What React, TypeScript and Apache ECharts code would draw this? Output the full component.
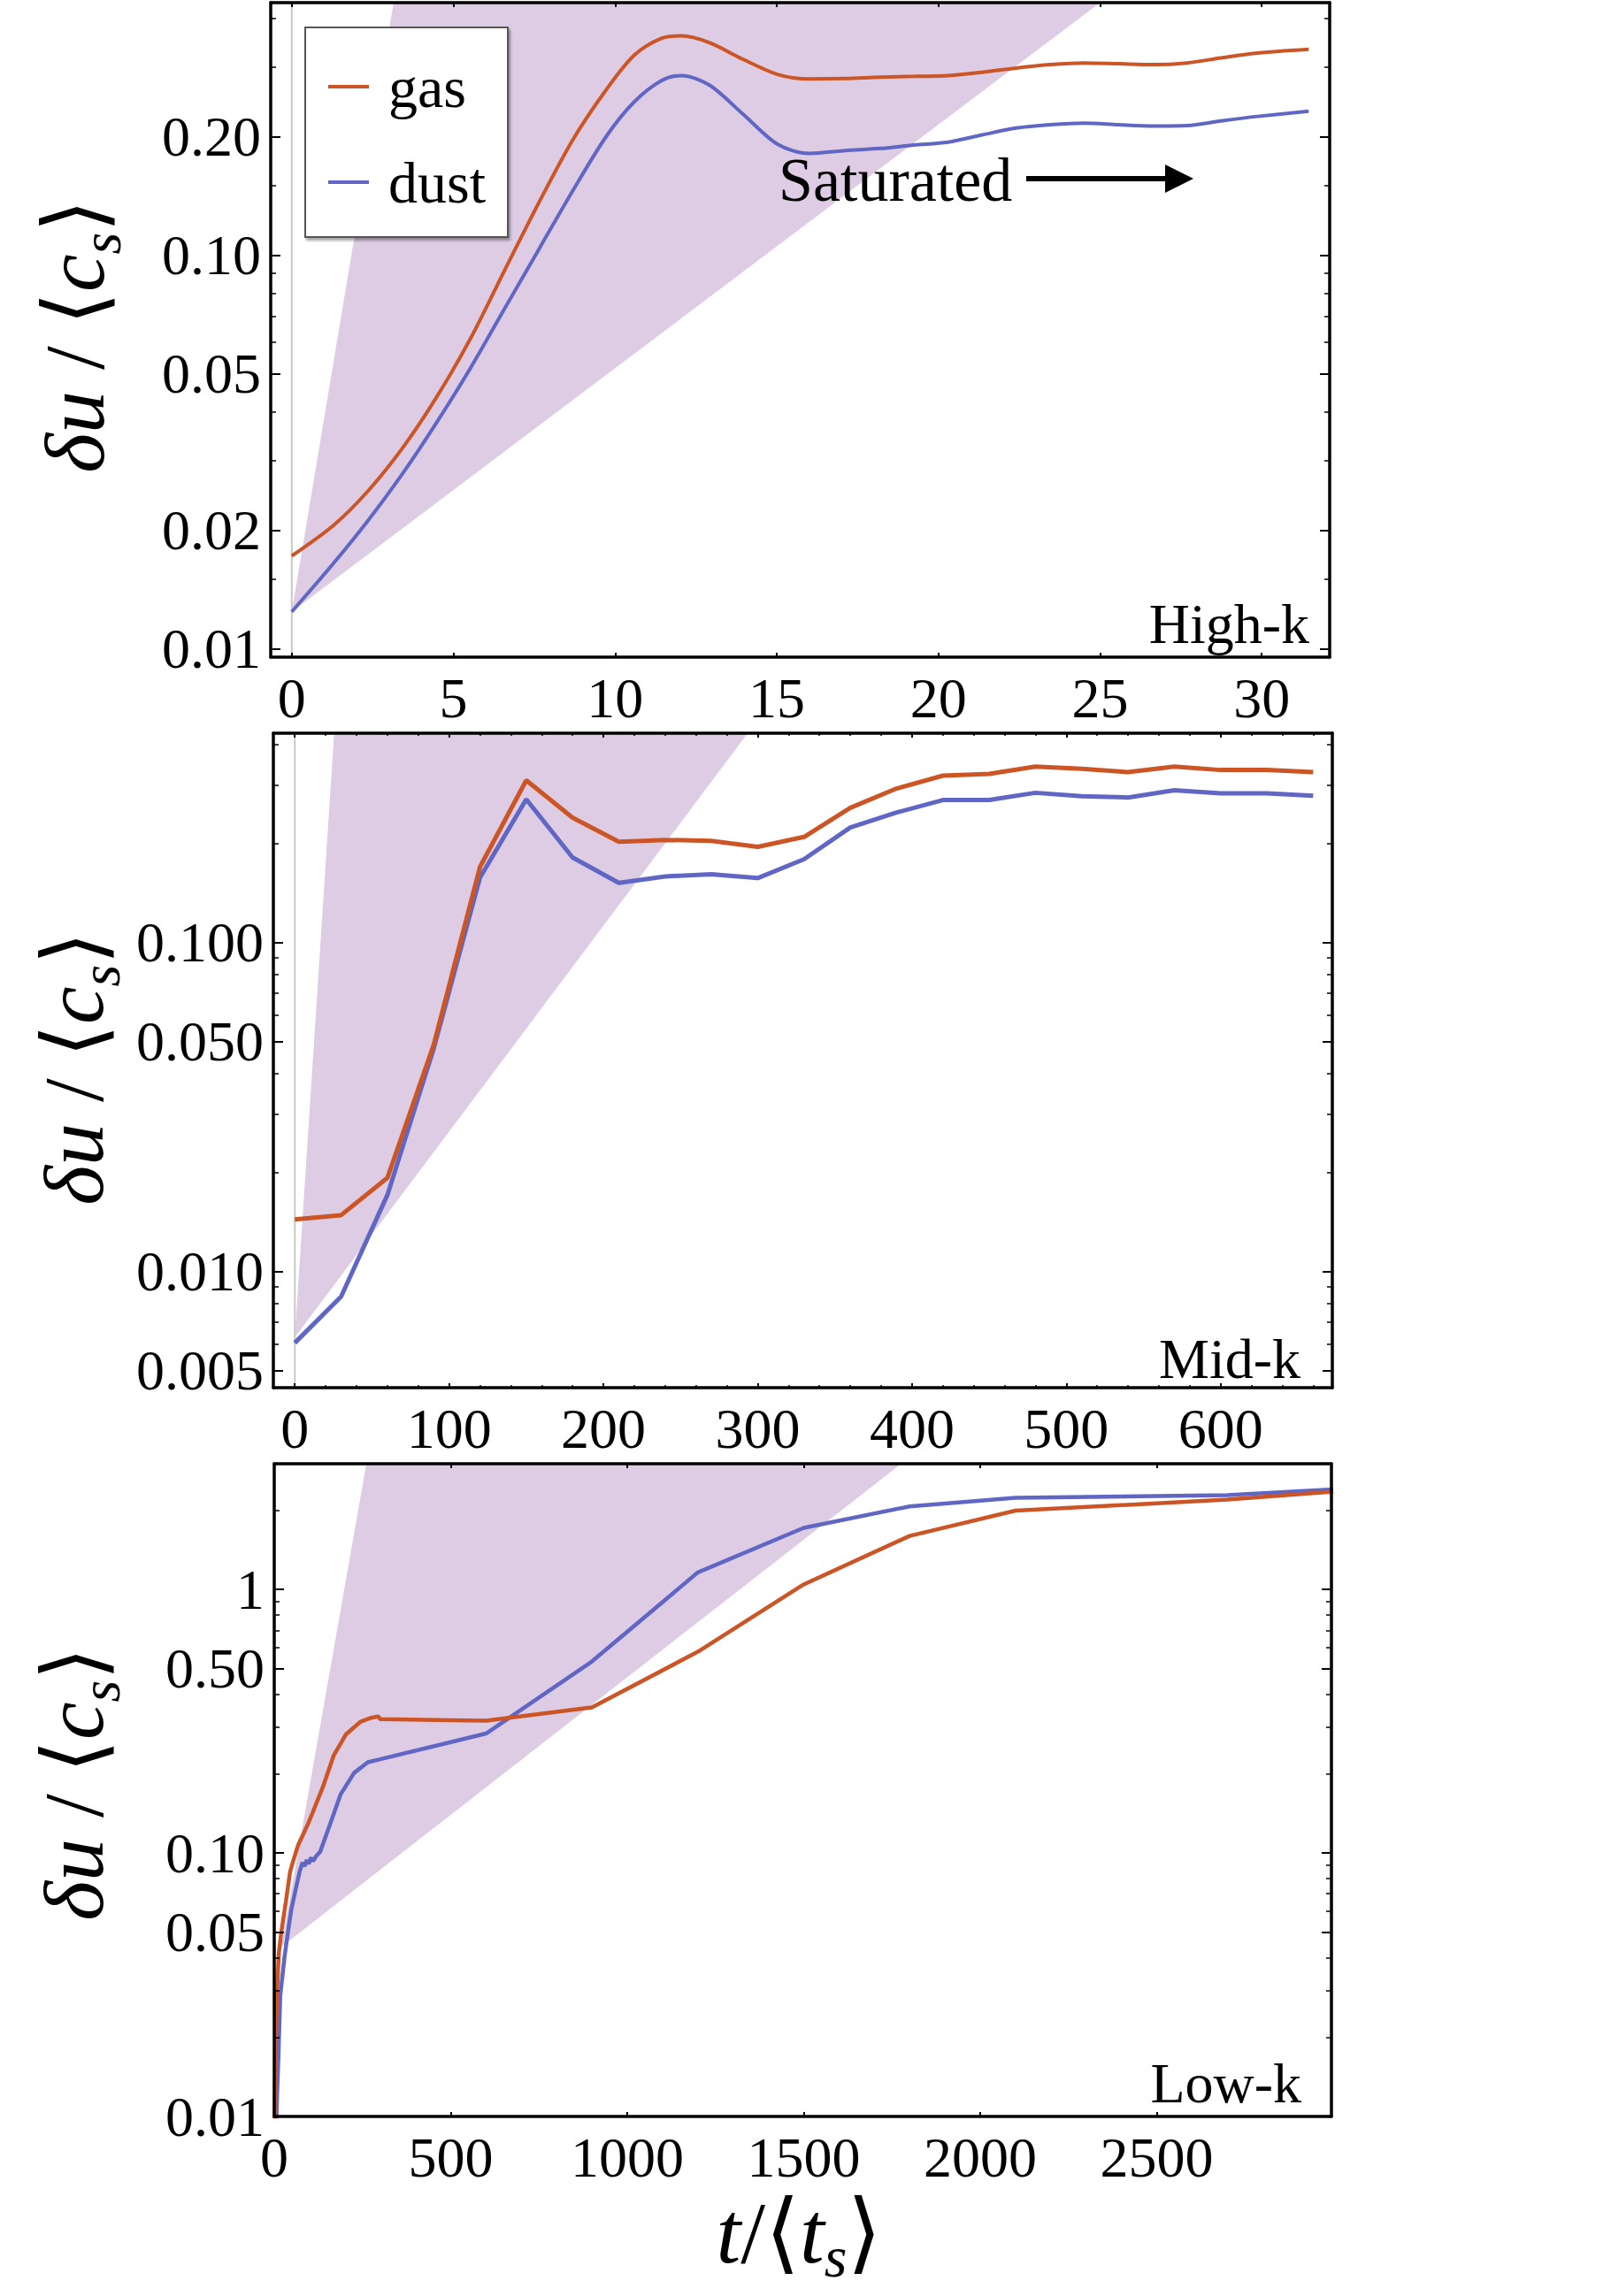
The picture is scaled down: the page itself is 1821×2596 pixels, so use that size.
import React, { useEffect, useRef } from "react";
import * as echarts from "echarts";

// ---------------- data ----------------
// High-k panel
const highK_t = [0, 1.3, 2.35, 3.41, 4.46, 5.52, 6.57, 7.63, 8.69, 9.74, 10.59, 11.43, 12.05, 12.91, 13.97, 15.02, 16.0, 17.13, 18.19, 19.24, 20.3, 21.35, 22.4, 23.46, 24.5, 25.58, 26.63, 27.69, 28.74, 29.8, 31.45];
const highK_gas = [0.0172, 0.0206, 0.0251, 0.0322, 0.0433, 0.0612, 0.091, 0.1353, 0.1962, 0.2641, 0.3219, 0.3554, 0.3606, 0.3467, 0.314, 0.2879, 0.2802, 0.2809, 0.2831, 0.2845, 0.2859, 0.2915, 0.2988, 0.3048, 0.3078, 0.3063, 0.3048, 0.3078, 0.3171, 0.3258, 0.3332];
const highK_dust = [0.0124, 0.0165, 0.0211, 0.0277, 0.0373, 0.0515, 0.0728, 0.103, 0.1457, 0.201, 0.245, 0.2773, 0.2859, 0.2706, 0.2276, 0.1913, 0.1812, 0.1843, 0.1866, 0.1904, 0.1937, 0.202, 0.2102, 0.2144, 0.2165, 0.2144, 0.2129, 0.2134, 0.2193, 0.2248, 0.232];
const highK_wedge = [[0, 0.0124], [3.15, 0.438], [25.0, 0.438]];
const highK_xTicks = [0, 5, 10, 15, 20, 25, 30];
const highK_yTicks = [0.01, 0.02, 0.05, 0.1, 0.2];
const highK_yTickLabels = ["0.01", "0.02", "0.05", "0.10", "0.20"];
const highK_yMinor = [0.015, 0.03, 0.04, 0.06, 0.07, 0.08, 0.09, 0.15, 0.3, 0.4];

// Mid-k panel
const midK_t = [0, 30, 60, 90, 120, 150, 180, 210, 240, 270, 300, 330, 360, 390, 420, 450, 480, 510, 540, 570, 600, 630, 660];
const midK_gas = [0.01438, 0.01482, 0.01923, 0.0488, 0.1694, 0.3107, 0.2393, 0.2021, 0.2047, 0.2034, 0.195, 0.209, 0.2563, 0.2933, 0.321, 0.3248, 0.342, 0.3368, 0.3289, 0.342, 0.3339, 0.3339, 0.3289];
const midK_dust = [0.00606, 0.00838, 0.01706, 0.0475, 0.1572, 0.2721, 0.181, 0.1516, 0.1586, 0.161, 0.1567, 0.1789, 0.2233, 0.248, 0.2706, 0.2706, 0.2847, 0.2779, 0.2755, 0.2899, 0.2838, 0.2838, 0.2789];
const midK_wedge = [[0, 0.0063], [25.5, 0.432], [293.5, 0.432]];
const midK_xTicks = [0, 100, 200, 300, 400, 500, 600];
const midK_xMinor = [20, 40, 60, 80, 120, 140, 160, 180, 220, 240, 260, 280, 320, 340, 360, 380, 420, 440, 460, 480, 520, 540, 560, 580, 620, 640, 660];
const midK_yTicks = [0.005, 0.01, 0.05, 0.1];
const midK_yTickLabels = ["0.005", "0.010", "0.050", "0.100"];
const midK_yMinor = [0.006, 0.007, 0.008, 0.009, 0.02, 0.03, 0.04, 0.06, 0.07, 0.08, 0.09, 0.2, 0.3, 0.4];

// Low-k panel
const lowK_gas_t = [0, 3, 6, 9, 13, 20, 33, 45, 52, 67, 95, 110, 139, 168, 203, 245, 275, 295, 300, 600, 900, 1200, 1500, 1800, 2100, 2700, 3000];
const lowK_gas = [0.0085, 0.015, 0.024, 0.032, 0.0417, 0.05, 0.0654, 0.085, 0.0916, 0.1066, 0.1283, 0.1436, 0.1798, 0.2338, 0.2818, 0.3152, 0.326, 0.33, 0.322, 0.3177, 0.3567, 0.5803, 1.045, 1.596, 1.991, 2.194, 2.35];
const lowK_dust_t = [5, 8, 11.5, 17, 29, 39, 48, 60, 72, 80, 86, 92, 98, 104, 110, 118, 130, 158, 188, 226, 265, 300, 600, 900, 1200, 1500, 1800, 2100, 2700, 3000];
const lowK_dust = [0.0085, 0.012, 0.0164, 0.0287, 0.0402, 0.0503, 0.0607, 0.072, 0.085, 0.092, 0.089, 0.094, 0.091, 0.096, 0.093, 0.097, 0.101, 0.1283, 0.1668, 0.2012, 0.221, 0.2268, 0.284, 0.533, 1.161, 1.713, 2.067, 2.227, 2.279, 2.4];
const lowK_wedge = [[20, 0.044], [261, 3.0], [1776, 3.0]];
const lowK_xTicks = [0, 500, 1000, 1500, 2000, 2500];
const lowK_yTicks = [0.01, 0.05, 0.1, 0.5, 1];
const lowK_yTickLabels = ["0.01", "0.05", "0.10", "0.50", "1"];
const lowK_yMinor = [0.02, 0.03, 0.04, 0.06, 0.07, 0.08, 0.09, 0.2, 0.3, 0.4, 0.6, 0.7, 0.8, 0.9, 2];

const panelNames = ["High-k", "Mid-k", "Low-k"];
const seriesNames = ["gas", "dust"];

// ---------------- styles ----------------
const SERIF = "'Liberation Serif', 'Times New Roman', serif";
const BRACKET_FONT = "'Liberation Serif', 'DejaVu Sans', serif";
const GAS_COLOR = "#cc5526";
const DUST_COLOR = "#6066c4";
const WEDGE_COLOR = "#ddcce4";
const ZERO_COLOR = "#c8c8c8";

const lg = (v: number) => Math.log10(v);

const panels = [
  {
    grid: { left: 306, top: 3, width: 1197, height: 740 },
    xMin: -0.651, xMax: 32.1, yMin: 0.00951, yMax: 0.438,
    xTicks: highK_xTicks, xMinor: [] as number[],
    yTicks: highK_yTicks, yLabels: highK_yTickLabels, yMinor: highK_yMinor,
    gasT: highK_t, gas: highK_gas, dustT: highK_t, dust: highK_dust,
    wedge: highK_wedge, zeroLine: true, smooth: 0.3, lw: 4,
    label: { x: 1480, y: 705 }, title: { x: 84, y: 380 },
  },
  {
    grid: { left: 309, top: 829, width: 1197, height: 740 },
    xMin: -13.9, xMax: 672.4, yMin: 0.00443, yMax: 0.432,
    xTicks: midK_xTicks, xMinor: midK_xMinor,
    yTicks: midK_yTicks, yLabels: midK_yTickLabels, yMinor: midK_yMinor,
    gasT: midK_t, gas: midK_gas, dustT: midK_t, dust: midK_dust,
    wedge: midK_wedge, zeroLine: true, smooth: false, lw: 5,
    label: { x: 1470, y: 1536 }, title: { x: 83, y: 1208 },
  },
  {
    grid: { left: 310, top: 1655, width: 1195, height: 738 },
    xMin: 0, xMax: 2995, yMin: 0.01, yMax: 3.0,
    xTicks: lowK_xTicks, xMinor: [] as number[],
    yTicks: lowK_yTicks, yLabels: lowK_yTickLabels, yMinor: lowK_yMinor,
    gasT: lowK_gas_t, gas: lowK_gas, dustT: lowK_dust_t, dust: lowK_dust,
    wedge: lowK_wedge, zeroLine: false, smooth: false, lw: 4.5,
    label: { x: 1471, y: 2355 }, title: { x: 83, y: 2017 },
  },
];

function mathRich(size: number, lh: number) {
  return {
    i: { fontFamily: SERIF, fontStyle: "italic", fontSize: size, lineHeight: size * lh, color: "#000" },
    n: { fontFamily: BRACKET_FONT, fontSize: size, lineHeight: size * lh, color: "#000" },
    s: { fontFamily: SERIF, fontStyle: "italic", fontSize: size * 0.66, lineHeight: size * lh, verticalAlign: "bottom", color: "#000" },
  };
}

function buildOption() {
  const grid: any[] = [];
  const xAxis: any[] = [];
  const yAxis: any[] = [];
  const series: any[] = [];
  const graphic: any[] = [];

  panels.forEach((p, i) => {
    grid.push({ ...p.grid, show: false, containLabel: false });
    const frameLine = { show: true, onZero: false, lineStyle: { color: "#000", width: 3.5 } };
    const tickLine = { color: "#000", width: 2 };

    const xBase = xAxis.length;
    const xCommon = { gridIndex: i, type: "value", min: p.xMin, max: p.xMax, splitLine: { show: false }, z: 10 };
    xAxis.push({
      ...xCommon, position: "bottom", axisLine: frameLine,
      axisTick: { show: true, inside: true, length: 5, customValues: p.xTicks, lineStyle: tickLine },
      axisLabel: { show: true, customValues: p.xTicks, margin: 14, fontSize: 64, fontFamily: SERIF, color: "#000", formatter: (v: number) => String(v) },
    });
    xAxis.push({
      ...xCommon, position: "top", axisLine: frameLine,
      axisTick: { show: true, inside: true, length: 5, customValues: p.xTicks, lineStyle: tickLine },
      axisLabel: { show: false },
    });
    if (p.xMinor.length) {
      ["bottom", "top"].forEach((pos) => {
        xAxis.push({
          ...xCommon, position: pos, axisLine: { show: false, onZero: false },
          axisTick: { show: true, inside: true, length: 3, customValues: p.xMinor, lineStyle: { color: "#000", width: 1.5 } },
          axisLabel: { show: false },
        });
      });
    }

    const yBase = yAxis.length;
    const yCommon = { gridIndex: i, type: "value", min: lg(p.yMin), max: lg(p.yMax), splitLine: { show: false }, z: 10 };
    const majorLog = p.yTicks.map(lg);
    const minorLog = p.yMinor.map(lg);
    yAxis.push({
      ...yCommon, position: "left", axisLine: frameLine,
      axisTick: { show: true, inside: true, length: 11, customValues: majorLog, lineStyle: tickLine },
      axisLabel: {
        show: true, customValues: majorLog, margin: 11, fontSize: 64, fontFamily: SERIF, color: "#000",
        formatter: (v: number) => {
          const k = majorLog.findIndex((m) => Math.abs(m - v) < 1e-6);
          return k >= 0 ? p.yLabels[k] : "";
        },
      },
    });
    yAxis.push({
      ...yCommon, position: "right", axisLine: frameLine,
      axisTick: { show: true, inside: true, length: 11, customValues: majorLog, lineStyle: tickLine },
      axisLabel: { show: false },
    });
    ["left", "right"].forEach((pos) => {
      yAxis.push({
        ...yCommon, position: pos, axisLine: { show: false, onZero: false },
        axisTick: { show: true, inside: true, length: 6, customValues: minorLog, lineStyle: { color: "#000", width: 1.5 } },
        axisLabel: { show: false },
      });
    });

    // instability wedge
    series.push({
      type: "custom", xAxisIndex: xBase, yAxisIndex: yBase, silent: true, z: 1,
      data: [[p.wedge[0][0], lg(p.wedge[0][1])]],
      renderItem: (_params: any, api: any) => ({
        type: "polygon",
        shape: { points: p.wedge.map(([t, v]) => api.coord([t, lg(v)])) },
        style: { fill: WEDGE_COLOR },
      }),
    });
    if (p.zeroLine) {
      series.push({
        type: "line", xAxisIndex: xBase, yAxisIndex: yBase, silent: true, z: 2,
        data: [[0, lg(p.yMin)], [0, lg(p.yMax)]], symbol: "none",
        lineStyle: { color: ZERO_COLOR, width: 2 },
      });
    }
    series.push({
      type: "line", name: seriesNames[1], xAxisIndex: xBase, yAxisIndex: yBase, z: 3,
      data: p.dustT.map((t, k) => [t, lg(p.dust[k])]), symbol: "none", smooth: p.smooth,
      lineStyle: { color: DUST_COLOR, width: p.lw }, itemStyle: { color: DUST_COLOR }, clip: true,
    });
    series.push({
      type: "line", name: seriesNames[0], xAxisIndex: xBase, yAxisIndex: yBase, z: 4,
      data: p.gasT.map((t, k) => [t, lg(p.gas[k])]), symbol: "none", smooth: p.smooth,
      lineStyle: { color: GAS_COLOR, width: p.lw }, itemStyle: { color: GAS_COLOR }, clip: true,
    });

    graphic.push({
      type: "text", x: p.label.x, y: p.label.y, z: 20,
      style: { text: panelNames[i], fontFamily: SERIF, fontSize: 64, fill: "#000", align: "right", verticalAlign: "middle" },
    });
    graphic.push({
      type: "text", x: p.title.x, y: p.title.y, rotation: Math.PI / 2, z: 20,
      style: {
        text: "{i|δu}{n| / ⟨}{i|c}{s|s}{n|⟩}",
        rich: mathRich(96, 1.3), align: "center", verticalAlign: "middle",
      },
    });
  });

  // x-axis title
  graphic.push({
    type: "text", x: 903, y: 2524, z: 20,
    style: { text: "{i|t}{n|/⟨}{i|t}{s|s}{n|⟩}", rich: mathRich(100, 1.2), align: "center", verticalAlign: "middle" },
  });
  // Saturated annotation
  graphic.push({
    type: "text", x: 880, y: 203, z: 20,
    style: { text: "Saturated", fontFamily: SERIF, fontSize: 70, fill: "#000", align: "left", verticalAlign: "middle" },
  });
  graphic.push({ type: "line", z: 20, shape: { x1: 1160, y1: 202, x2: 1322, y2: 202 }, style: { stroke: "#000", lineWidth: 6 } });
  graphic.push({ type: "polygon", z: 20, shape: { points: [[1317, 186], [1349, 202], [1317, 218]] }, style: { fill: "#000" } });

  return {
    animation: false,
    backgroundColor: "#fff",
    grid, xAxis, yAxis, series, graphic,
    legend: {
      data: seriesNames, orient: "vertical", left: 345, top: 31,
      icon: "rect", itemWidth: 46, itemHeight: 4, itemGap: 42, padding: [34, 25, 29, 26],
      borderColor: "#555", borderWidth: 2, backgroundColor: "#fff",
      shadowColor: "rgba(0,0,0,0.35)", shadowOffsetX: 2, shadowOffsetY: 3, shadowBlur: 3,
      selectedMode: false, z: 20,
      textStyle: { fontFamily: SERIF, fontSize: 66, color: "#000", padding: [0, 0, 0, 17] },
    },
  };
}

export default function App() {
  const ref = useRef<HTMLDivElement>(null);
  useEffect(() => {
    document.body.style.margin = "0";
    const chart = echarts.init(ref.current as HTMLDivElement, null, { renderer: "svg", width: 1821, height: 2596 });
    chart.setOption(buildOption() as any);
    return () => chart.dispose();
  }, []);
  return <div ref={ref} style={{ width: 1821, height: 2596, background: "#fff" }} />;
}
